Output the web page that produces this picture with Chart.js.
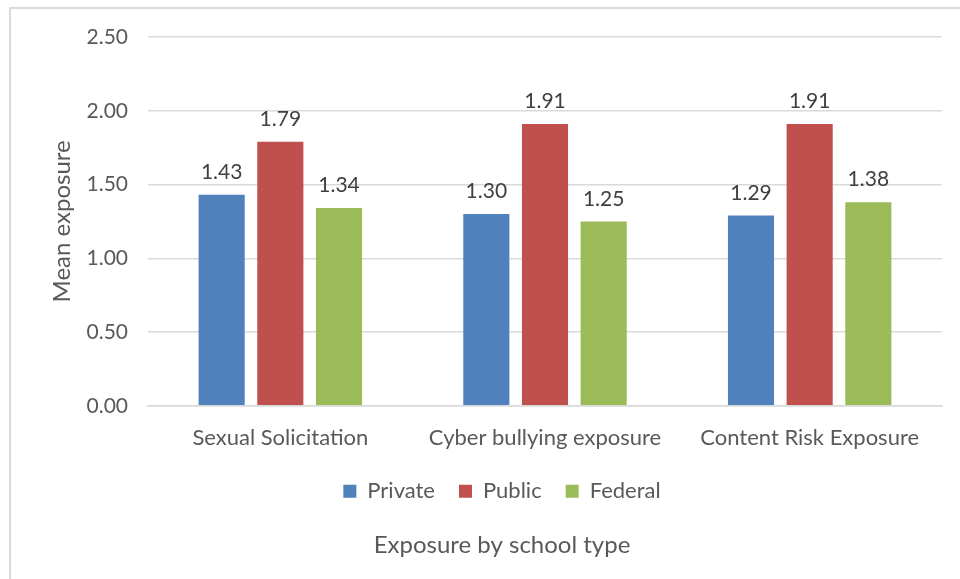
<!DOCTYPE html>
<html>
<head>
<meta charset="utf-8">
<script src="https://cdn.jsdelivr.net/npm/chart.js@4"></script>
<style>
  html, body { margin: 0; padding: 0; background: #fff; }
  #wrap { position: relative; width: 960px; height: 579px; overflow: hidden; }
  #frame { position: absolute; left: 9px; top: 7px; width: 960px; height: 600px;
           border-top: 2px solid #d9d9d9; border-left: 2px solid #d9d9d9; }
  canvas { position: absolute; left: 0; top: 0; }
</style>
</head>
<body>
<div id="wrap">
  <div id="frame"></div>
  <canvas id="chart" width="960" height="579"></canvas>
</div>
<script>
// Mean exposure scores by school type
const categories = ['Sexual Solicitation', 'Cyber bullying exposure', 'Content Risk Exposure'];
const privateValues = [1.43, 1.30, 1.29];
const publicValues  = [1.79, 1.91, 1.91];
const federalValues = [1.34, 1.25, 1.38];
const yTicks = [0, 0.5, 1.0, 1.5, 2.0, 2.5];

const FONT = 'Lato, "Open Sans", sans-serif';
const TEXT = '#595959';

// Writes each bar's value above it
const valueLabels = {
  id: 'valueLabels',
  afterDatasetsDraw(chart) {
    const ctx = chart.ctx;
    ctx.save();
    ctx.font = '21px ' + FONT;
    ctx.fillStyle = '#404040';
    ctx.textAlign = 'center';
    ctx.textBaseline = 'bottom';
    chart.data.datasets.forEach((ds, i) => {
      chart.getDatasetMeta(i).data.forEach((bar, j) => {
        ctx.fillText(ds.data[j].toFixed(2), bar.x, bar.y - 12);
      });
    });
    ctx.restore();
  }
};

new Chart(document.getElementById('chart'), {
  type: 'bar',
  data: {
    labels: categories,
    datasets: [
      { label: 'Private', data: privateValues, backgroundColor: '#4F81BD' },
      { label: 'Public',  data: publicValues,  backgroundColor: '#C0504D' },
      { label: 'Federal', data: federalValues, backgroundColor: '#9BBB59' }
    ]
  },
  options: {
    responsive: false,
    animation: false,
    events: [],
    layout: { padding: { left: 62, right: 18, top: 37, bottom: 0 } },
    datasets: { bar: { categoryPercentage: 0.665, barPercentage: 0.786 } },
    scales: {
      x: {
        afterFit(scale) { scale.height -= 14; },
        grid: { display: false, drawTicks: false },
        border: { display: true, color: '#d9d9d9', width: 1.5 },
        ticks: { color: TEXT, font: { family: FONT, size: 22 }, padding: 19 }
      },
      y: {
        min: 0, max: 2.5,
        afterBuildTicks(scale) { scale.ticks = yTicks.map(v => ({ value: v })); },
        afterFit(scale) { scale.width = 86; },
        grid: { color: '#d9d9d9', lineWidth: 1.5, drawTicks: false },
        border: { display: false },
        ticks: {
          color: TEXT, font: { family: FONT, size: 21 }, padding: 20,
          callback: v => Number(v).toFixed(2)
        },
        title: {
          display: true, text: 'Mean exposure', color: TEXT,
          font: { family: FONT, size: 24 }, padding: { top: -14, bottom: 0 }
        }
      }
    },
    plugins: {
      legend: {
        position: 'bottom',
        labels: {
          color: TEXT, font: { family: FONT, size: 22 },
          boxWidth: 13, boxHeight: 13, padding: 24
        }
      },
      title: {
        display: true, position: 'bottom', text: 'Exposure by school type',
        color: TEXT, font: { family: FONT, size: 24, weight: 'normal' },
        padding: { top: 19, bottom: 19 }
      },
      tooltip: { enabled: false }
    }
  },
  plugins: [valueLabels]
});
</script>
</body>
</html>
